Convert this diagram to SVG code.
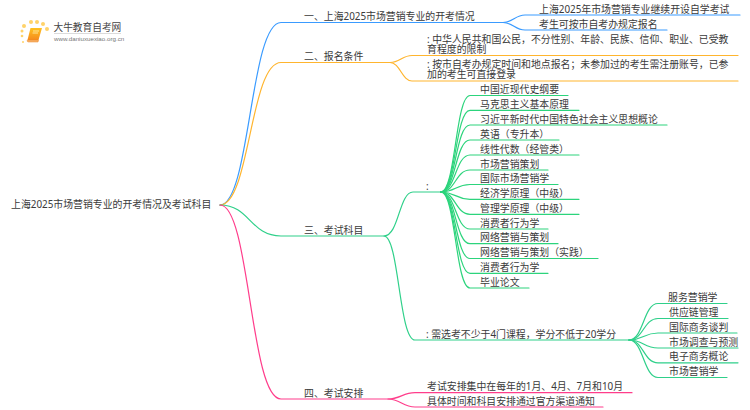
<svg xmlns="http://www.w3.org/2000/svg" width="750" height="410" viewBox="0 0 750 410">
<defs><linearGradient id="bk" x1="0" y1="0" x2="0" y2="1"><stop offset="0" stop-color="#ffc21f"/><stop offset="1" stop-color="#f58a1f"/></linearGradient></defs>
<style>
text{font-family:"Noto Sans","Noto Sans CJK SC",sans-serif;font-size:9.9px;fill:#3a3a3a}
.c{fill:none;stroke-width:1.2;stroke-linecap:round}
.b{stroke:#3a9bff}.o{stroke:#ffb52e}.g{stroke:#2fd08a}.s{stroke:#2cd47c}.p{stroke:#ff3d8b}
.dot{fill:#ffd36a}
</style>
<rect width="750" height="410" fill="#fff"/>
<g id="connectors">
<path class="c b" d="M220 205C250 205 250 22.500 281 22.500H503C513 22.500 515 15 525 15H740"/>
<path class="c b" d="M503 22.500C513 22.500 515 30 525 30H667"/>
<path class="c o" d="M220 205C250 205 250 62.500 281 62.500H390C400 62.500 402 55.500 412 55.500H738"/>
<path class="c o" d="M390 62.500C400 62.500 402 81 412 81H738"/>
<path class="c g" d="M220 205C250 205 250 236 281 236H384C399 236 399 192 413 192H441"/>
<path class="c g" d="M384 236C399 236 399 340 415 340H629"/>
<path class="c p" d="M220 205C250 205 250 399 281 399H388C400 399 403 392.700 415 392.700H632"/>
<path class="c p" d="M388 399C400 399 403 407 415 407H603"/>
<g id="subject-lines">
<path class="c s" d="M441 192C455.500 192 455.500 95.500 470 95.500H568"/>
<path class="c s" d="M441 192C455.500 192 455.500 110.300 470 110.300H579"/>
<path class="c s" d="M441 192C455.500 192 455.500 125 470 125H667"/>
<path class="c s" d="M441 192C455.500 192 455.500 140 470 140H559"/>
<path class="c s" d="M441 192C455.500 192 455.500 155 470 155H579"/>
<path class="c s" d="M441 192C455.500 192 455.500 170 470 170H548"/>
<path class="c s" d="M441 192C455.500 192 455.500 184.500 470 184.500H558"/>
<path class="c s" d="M441 192C455.500 192 455.500 199.300 470 199.300H579"/>
<path class="c s" d="M441 192C455.500 192 455.500 214.300 470 214.300H579"/>
<path class="c s" d="M441 192C455.500 192 455.500 229 470 229H548"/>
<path class="c s" d="M441 192C455.500 192 455.500 243.700 470 243.700H558"/>
<path class="c s" d="M441 192C455.500 192 455.500 258.500 470 258.500H598"/>
<path class="c s" d="M441 192C455.500 192 455.500 273.300 470 273.300H548"/>
<path class="c s" d="M441 192C455.500 192 455.500 288 470 288H529"/>
</g>
<g id="elective-lines">
<path class="c g" d="M629 340C643.500 340 643.500 303.500 658 303.500H727"/>
<path class="c g" d="M629 340C643.500 340 643.500 318.500 658 318.500H728"/>
<path class="c g" d="M629 340C643.500 340 643.500 333 658 333H737"/>
<path class="c g" d="M629 340C643.500 340 643.500 348 658 348H738"/>
<path class="c g" d="M629 340C643.500 340 643.500 362.800 658 362.800H738"/>
<path class="c g" d="M629 340C643.500 340 643.500 377.500 658 377.500H727"/>
</g>
</g>
<g id="logo">
<circle class="dot" cx="24" cy="26" r="2"/><circle class="dot" cx="31" cy="22" r="2"/><circle class="dot" cx="37" cy="22" r="2"/><circle class="dot" cx="43" cy="24" r="2"/><circle class="dot" cx="47" cy="29" r="2"/><circle class="dot" cx="22" cy="31" r="1.500"/><circle class="dot" cx="22" cy="36" r="1.300"/><circle class="dot" cx="23" cy="42" r="1"/>
<path d="M30.500 28H42L38.500 40H27.500Z" fill="url(#bk)"/>
<path d="M27.500 40H38.500L38 42H28.500C27 42 27 40.500 27.500 40Z" fill="#f7b26a" stroke="#ee8420" stroke-width=".5"/>
<path d="M33 31H39M32.500 33H38" stroke="#fff1b8" stroke-width=".8"/>
<text x="53.500" y="31" style="font-size:9.700px;fill:#444">大牛教育自考网</text>
<path d="M54 33.500H121" stroke="#ccc" stroke-width=".7"/>
<text x="54" y="40.500" style="font-size:6.200px;fill:#777;font-family:'Liberation Sans',sans-serif">www.daniuxuexiao.org.cn</text>
</g>
<g id="root"><text x="11" y="208">上海2025市场营销专业的开考情况及考试科目</text></g>
<g id="n1"><text x="304" y="19.500">一、上海2025市场营销专业的开考情况</text></g>
<g id="n1-1"><text x="539" y="12.500">上海2025年市场营销专业继续开设自学考试</text></g>
<g id="n1-2"><text x="539" y="27.500">考生可按市自考办规定报名</text></g>
<g id="n2"><text x="304" y="60">二、报名条件</text></g>
<g id="n2-1"><text x="427" y="42.500">: 中华人民共和国公民，不分性别、年龄、民族、信仰、职业、已受教<tspan x="427" y="52.500">育程度的限制</tspan></text></g>
<g id="n2-2"><text x="427" y="67.500">: 按市自考办规定时间和地点报名；未参加过的考生需注册账号，已参<tspan x="427" y="78">加的考生可直接登录</tspan></text></g>
<g id="n3"><text x="304" y="233.500">三、考试科目</text></g>
<g id="n3-1"><text x="426" y="189.500">:</text></g>
<g id="s1"><text x="480" y="93">中国近现代史纲要</text></g>
<g id="s2"><text x="480" y="107.800">马克思主义基本原理</text></g>
<g id="s3"><text x="480" y="122.500">习近平新时代中国特色社会主义思想概论</text></g>
<g id="s4"><text x="480" y="137.500">英语（专升本）</text></g>
<g id="s5"><text x="480" y="152.500">线性代数（经管类）</text></g>
<g id="s6"><text x="480" y="167.500">市场营销策划</text></g>
<g id="s7"><text x="480" y="182">国际市场营销学</text></g>
<g id="s8"><text x="480" y="196.800">经济学原理（中级）</text></g>
<g id="s9"><text x="480" y="211.800">管理学原理（中级）</text></g>
<g id="s10"><text x="480" y="226.500">消费者行为学</text></g>
<g id="s11"><text x="480" y="241.200">网络营销与策划</text></g>
<g id="s12"><text x="480" y="256">网络营销与策划（实践）</text></g>
<g id="s13"><text x="480" y="270.800">消费者行为学</text></g>
<g id="s14"><text x="480" y="285.500">毕业论文</text></g>
<g id="n3-2"><text x="426" y="338">: 需选考不少于4门课程，学分不低于20学分</text></g>
<g id="e1"><text x="668" y="301">服务营销学</text></g>
<g id="e2"><text x="669" y="316">供应链管理</text></g>
<g id="e3"><text x="669" y="330.500">国际商务谈判</text></g>
<g id="e4"><text x="669" y="345.500">市场调查与预测</text></g>
<g id="e5"><text x="669" y="360.300">电子商务概论</text></g>
<g id="e6"><text x="669" y="375">市场营销学</text></g>
<g id="n4"><text x="304" y="397">四、考试安排</text></g>
<g id="n4-1"><text x="427" y="390">考试安排集中在每年的1月、4月、7月和10月</text></g>
<g id="n4-2"><text x="427" y="404.500">具体时间和科目安排通过官方渠道通知</text></g>
</svg>
